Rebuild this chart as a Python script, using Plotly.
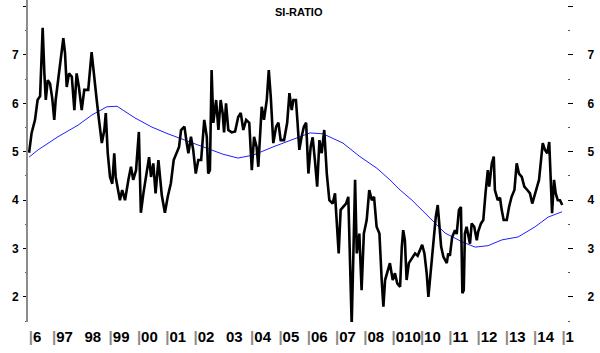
import plotly.graph_objects as go

# SI-RATIO readings (decimal year, value)
si_x = [1996.19,1996.28,1996.40,1996.49,1996.58,1996.64,1996.67,1996.73,1996.78,1996.85,1996.93,
        1997.01,1997.08,1997.13,1997.22,1997.32,1997.40,1997.46,1997.52,1997.60,1997.70,1997.79,1997.87,1997.95,
        1998.05,1998.14,1998.28,1998.40,1998.49,1998.58,1998.66,1998.76,1998.85,1998.90,1998.97,
        1999.05,1999.13,1999.20,1999.25,1999.32,1999.40,1999.48,1999.58,1999.70,1999.79,1999.87,1999.97,
        2000.07,2000.14,2000.23,2000.31,2000.43,2000.50,2000.58,2000.66,2000.76,2000.88,2000.99,
        2001.09,2001.20,2001.30,2001.41,2001.49,2001.56,2001.68,2001.76,2001.82,2001.91,2001.99,
        2002.08,2002.17,2002.27,2002.38,2002.47,2002.52,2002.58,2002.64,2002.70,2002.80,2002.88,2002.96,
        2003.03,2003.08,2003.15,2003.23,2003.35,2003.47,2003.58,2003.67,2003.76,2003.86,2003.97,
        2004.06,2004.14,2004.23,2004.29,2004.41,2004.49,2004.59,2004.66,2004.73,2004.82,2004.92,
        2005.00,2005.08,2005.20,2005.31,2005.39,2005.47,2005.53,2005.62,2005.67,2005.74,2005.82,2005.90,2005.98,
        2006.06,2006.14,2006.21,2006.29,2006.37,2006.45,2006.53,2006.62,2006.71,2006.80,2006.92,
        2007.00,2007.08,2007.13,2007.20,2007.29,2007.39,2007.47,2007.53,2007.59,2007.65,2007.71,2007.77,2007.86,2007.94,
        2008.02,2008.12,2008.21,2008.30,2008.38,2008.47,2008.57,2008.65,2008.71,2008.77,2008.94,
        2009.04,2009.12,2009.20,2009.30,2009.36,2009.41,2009.47,2009.53,2009.61,2009.71,2009.83,2009.92,
        2010.00,2010.08,2010.16,2010.24,2010.30,2010.39,2010.47,2010.56,2010.63,2010.67,2010.75,2010.83,2010.89,2010.95,
        2011.00,2011.06,2011.14,2011.24,2011.30,2011.38,2011.45,2011.50,2011.55,2011.59,2011.65,2011.71,2011.77,2011.83,2011.92,
        2012.01,2012.06,2012.16,2012.24,2012.32,2012.40,2012.45,2012.54,2012.61,2012.65,2012.75,2012.83,2012.89,2012.96,
        2013.07,2013.15,2013.24,2013.34,2013.42,2013.50,2013.60,2013.69,2013.81,2013.89,2013.97,
        2014.07,2014.16,2014.21,2014.28,2014.34,2014.42,2014.50,2014.57,2014.63,2014.67,2014.74,2014.80,2014.87,2014.95,2015.03]
si_y = [4.98,5.39,5.66,6.07,6.15,7.04,7.56,6.63,6.07,6.48,6.41,
        6.10,5.66,6.07,6.48,6.90,7.35,7.04,6.34,6.62,6.55,5.86,6.62,6.34,
        5.86,6.28,6.28,7.06,6.62,6.07,5.66,5.18,5.45,5.80,4.97,
        4.48,4.34,4.97,4.48,4.21,4.00,4.21,4.00,4.42,4.69,4.42,4.62,
        5.41,3.74,4.14,4.48,4.89,4.48,4.76,4.14,4.83,4.10,3.74,
        4.07,4.35,4.83,4.97,5.10,5.45,5.52,5.18,4.97,5.31,5.04,
        4.55,4.83,4.83,5.66,5.31,4.55,4.62,6.69,5.60,6.07,5.45,6.07,
        5.80,5.40,6.00,5.45,5.40,5.42,5.72,5.80,5.45,5.66,5.60,
        4.62,5.31,5.10,4.69,5.93,5.66,6.07,6.69,6.14,5.18,5.52,
        5.60,5.24,5.24,5.60,6.21,5.86,6.07,6.07,5.66,5.04,5.31,5.52,5.60,
        4.55,5.10,5.30,4.83,4.28,5.24,4.97,5.45,4.55,4.00,3.93,
        4.14,3.24,2.90,3.80,3.86,3.93,4.07,2.76,1.42,2.90,4.42,2.90,3.31,2.14,
        3.31,3.59,4.21,4.00,4.07,3.45,3.31,2.35,1.80,2.35,2.70,
        2.35,2.49,2.28,2.21,3.03,3.38,3.17,2.35,2.70,2.80,2.90,2.85,
        2.97,3.08,2.90,2.49,2.00,2.63,3.17,3.65,3.90,3.59,3.04,2.83,2.76,2.70,
        2.90,2.85,3.24,3.38,3.30,3.80,3.86,2.08,2.14,3.31,3.45,3.30,3.10,3.52,3.45,
        3.17,3.35,3.52,3.59,4.15,4.62,4.28,4.76,4.90,4.21,4.00,4.05,3.80,3.59,
        3.59,3.86,4.07,4.21,4.76,4.55,4.48,4.28,4.20,4.14,3.93,
        4.14,4.28,4.42,4.83,5.18,5.04,4.97,5.20,4.28,3.73,4.42,4.14,4.00,4.00,3.90]

# Moving average (blue)
ma_x = [1996.19,1996.51,1997.21,1997.92,1998.41,1998.94,1999.30,1999.93,2000.53,2001.10,2001.70,2002.16,
        2002.76,2003.04,2003.57,2004.10,2004.81,2005.41,2006.12,2006.58,2007.28,2007.88,2008.48,2008.94,
        2009.30,2009.72,2010.29,2010.89,2011.49,2011.95,2012.41,2012.90,2013.47,2014.07,2014.53,2015.02]
ma_y = [4.89,5.04,5.31,5.55,5.76,5.93,5.94,5.70,5.51,5.37,5.24,5.14,
        5.00,4.95,4.87,4.93,5.10,5.24,5.39,5.37,5.18,4.90,4.66,4.42,
        4.21,4.00,3.66,3.32,3.14,3.03,3.06,3.18,3.24,3.45,3.65,3.76]

# x tick labels
x_tick_pos = [1996.18] + list(range(1997, 2016))
x_tick_lab = ["|6", "|97", " 98", "|99", "|00", "|01", "|02", " 03", "|04", "|05", "|06",
              "|07", "|08", "|010", "|10", "|11", "|12", "|13", "|14", "|1"]
y_ticks = [2, 3, 4, 5, 6, 7, 8]
y_labels = ["2", "3", "4", "5", "6", "7", ""]
y_minor = [1.5, 2.5, 3.5, 4.5, 5.5, 6.5, 7.5]

def fmt(t):
    if t.startswith("|"):
        return "<span style='color:#8a8a8a'>|</span>" + t[1:]
    return "<span style='color:rgba(0,0,0,0)'>|</span>" + t[1:]

YR = [1.483, 8.136]

fig = go.Figure()
fig.add_trace(go.Scatter(x=ma_x, y=ma_y, mode="lines", line=dict(color="#1f1fff", width=1),
                         showlegend=False, hoverinfo="skip"))
fig.add_trace(go.Scatter(x=si_x, y=si_y, mode="lines", line=dict(color="black", width=2.6),
                         showlegend=False, hoverinfo="skip"))
fig.add_trace(go.Scatter(x=ma_x, y=ma_y, mode="lines", line=dict(color="rgba(0,0,0,0)", width=0),
                         yaxis="y2", showlegend=False, hoverinfo="skip"))

lab_font = dict(family="Liberation Sans, Arial, sans-serif", size=12, color="black", weight="bold")

fig.update_layout(
    width=600, height=353,
    margin=dict(l=28, r=33, t=0, b=31),
    paper_bgcolor="white", plot_bgcolor="white",
    xaxis=dict(range=[1996.152, 2015.198], showgrid=False, zeroline=False, showline=False,
               ticks="", tickvals=x_tick_pos, ticktext=[fmt(t) for t in x_tick_lab],
               ticklabelposition="outside right", ticklabelstandoff=4, tickangle=0,
               tickfont=dict(family="Liberation Sans Narrow, Arial Narrow, Liberation Sans, sans-serif",
                             size=15, color="black", weight="bold"),
               automargin=False),
    yaxis=dict(range=YR, showgrid=False, zeroline=False, showline=True, linecolor="#8c8c8c", linewidth=2,
               ticks="outside", ticklen=3, tickcolor="black", tickwidth=1,
               tickvals=y_ticks, ticktext=y_labels, tickfont=lab_font, ticklabelstandoff=2,
               minor=dict(tickvals=y_minor, ticks="outside", ticklen=1, tickcolor="#555"),
               automargin=False),
    yaxis2=dict(range=YR, overlaying="y", side="right", anchor="x", showgrid=False, zeroline=False,
                showline=False, ticks="outside", ticklen=5, tickcolor="black", tickwidth=1,
                tickvals=y_ticks, ticktext=y_labels, tickfont=lab_font, ticklabelstandoff=12,
                minor=dict(tickvals=y_minor, ticks="outside", ticklen=2, tickcolor="#555"),
                automargin=False),
    annotations=[dict(text="SI-RATIO", xref="paper", yref="paper", x=0.502, y=1, yanchor="top",
                      yshift=-4, showarrow=False,
                      font=dict(family="Liberation Sans, Arial, sans-serif", size=11, color="black",
                                weight="bold"))],
)

fig.write_html("out.html")
